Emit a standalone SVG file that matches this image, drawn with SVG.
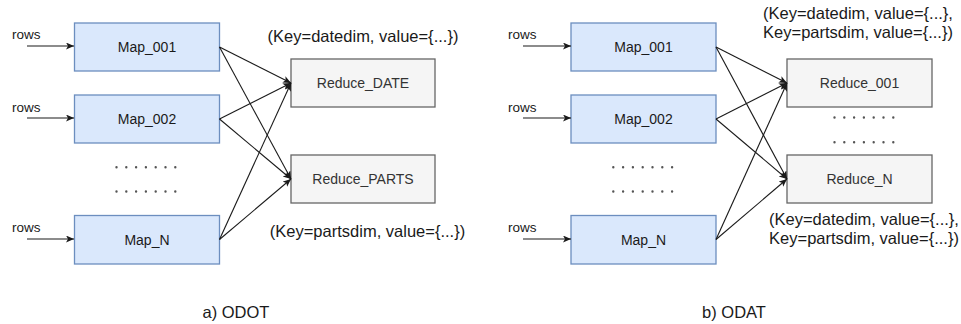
<svg xmlns="http://www.w3.org/2000/svg" width="961" height="324" viewBox="0 0 961 324">
  <style>
    .map rect { fill: #dae8fc; stroke: #6c8ebf; stroke-width: 1.3; }
    .red rect { fill: #f5f5f5; stroke: #666666; stroke-width: 1.3; }
    .map text { font-family: "Liberation Sans", Arial, sans-serif; font-size: 14px; fill: #1a1a1a; text-anchor: middle; }
    .red text { font-family: "Liberation Sans", Arial, sans-serif; font-size: 14px; fill: #333333; text-anchor: middle; }
    .rows { font-family: "Liberation Sans", Arial, sans-serif; font-size: 13.5px; fill: #1a1a1a; }
    .lbl { font-family: "Liberation Sans", Arial, sans-serif; font-size: 16.5px; fill: #1a1a1a; }
    .mid { text-anchor: middle; }
    .edge { stroke: #1a1a1a; stroke-width: 1.1; fill: none; marker-end: url(#arr); }
    .dots { stroke: #555555; stroke-width: 2.4; stroke-linecap: round; stroke-dasharray: 0 9.8; fill: none; }
  </style>
  <defs>
    <marker id="arr" markerUnits="userSpaceOnUse" markerWidth="10" markerHeight="8" refX="8" refY="3.5" orient="auto">
      <path d="M0,0 L8,3.5 L0,7 L2,3.5 z" fill="#1a1a1a"/>
    </marker>
  </defs>

  <rect width="961" height="324" fill="#ffffff"/>

  <!-- a) ODOT: one reducer per dimension -->
  <g id="a-map-001" class="map"><rect x="74.5" y="23" width="145" height="48"/><text x="147" y="52">Map_001</text></g>
  <g id="a-map-002" class="map"><rect x="74.5" y="95" width="145" height="48"/><text x="147" y="124">Map_002</text></g>
  <g id="a-map-n" class="map"><rect x="74.5" y="215.5" width="145" height="48.5"/><text x="147" y="245">Map_N</text></g>
  <g id="a-reduce-date" class="red"><rect x="291" y="59" width="144" height="48"/><text x="363" y="88">Reduce_DATE</text></g>
  <g id="a-reduce-parts" class="red"><rect x="291" y="155" width="144" height="48"/><text x="363" y="184">Reduce_PARTS</text></g>

  <g id="a-dots">
    <path class="dots" d="M116.5,167.3 H176 M116.5,191.5 H176"/>
  </g>

  <g id="a-rows">
    <text class="rows" x="12" y="39">rows</text>
    <text class="rows" x="12" y="112">rows</text>
    <text class="rows" x="12" y="232">rows</text>
  </g>

  <g id="a-labels">
    <text class="lbl mid" x="363" y="42">(Key=datedim, value={...})</text>
    <text class="lbl mid" x="367.5" y="237">(Key=partsdim, value={...})</text>
    <text class="lbl mid" x="236" y="318">a) ODOT</text>
  </g>

  <!-- b) ODAT: every reducer receives all dimensions -->
  <g id="b-map-001" class="map"><rect x="571" y="23" width="145" height="48"/><text x="643.5" y="52">Map_001</text></g>
  <g id="b-map-002" class="map"><rect x="571" y="95" width="145" height="48"/><text x="643.5" y="124">Map_002</text></g>
  <g id="b-map-n" class="map"><rect x="571" y="215.5" width="145" height="48.5"/><text x="643.5" y="245">Map_N</text></g>
  <g id="b-reduce-001" class="red"><rect x="787" y="59" width="145" height="48"/><text x="859.5" y="88">Reduce_001</text></g>
  <g id="b-reduce-n" class="red"><rect x="787" y="155" width="145" height="48"/><text x="859.5" y="184">Reduce_N</text></g>

  <g id="b-dots">
    <path class="dots" d="M613.3,167.3 H673 M613.3,191.5 H673"/>
    <path class="dots" d="M834.5,117.5 H894 M834.5,142.3 H894"/>
  </g>

  <g id="b-rows">
    <text class="rows" x="508" y="39">rows</text>
    <text class="rows" x="508" y="112">rows</text>
    <text class="rows" x="508" y="232">rows</text>
  </g>

  <g id="b-labels">
    <text class="lbl mid" x="858" y="19">(Key=datedim, value={...},</text>
    <text class="lbl mid" x="858" y="38">Key=partsdim, value={...})</text>
    <text class="lbl mid" x="864" y="225">(Key=datedim, value={...},</text>
    <text class="lbl mid" x="864" y="244">Key=partsdim, value={...})</text>
    <text class="lbl mid" x="734" y="318">b) ODAT</text>
  </g>

  <!-- connectors -->
  <g id="connectors">
    <path class="edge" d="M27,46 H74"/>
    <path class="edge" d="M27,118 H74"/>
    <path class="edge" d="M27,239 H74"/>
    <path class="edge" d="M219.5,47 L291,83"/>
    <path class="edge" d="M219.5,47 L291,179"/>
    <path class="edge" d="M219.5,119 L291,83"/>
    <path class="edge" d="M219.5,119 L291,179"/>
    <path class="edge" d="M219.5,239.5 L291,83"/>
    <path class="edge" d="M219.5,239.5 L291,179"/>

    <path class="edge" d="M523,46 H571"/>
    <path class="edge" d="M523,118 H571"/>
    <path class="edge" d="M523,239 H571"/>
    <path class="edge" d="M716,47 L787,83"/>
    <path class="edge" d="M716,47 L787,179"/>
    <path class="edge" d="M716,119 L787,83"/>
    <path class="edge" d="M716,119 L787,179"/>
    <path class="edge" d="M716,239.5 L787,83"/>
    <path class="edge" d="M716,239.5 L787,179"/>
  </g>
</svg>
